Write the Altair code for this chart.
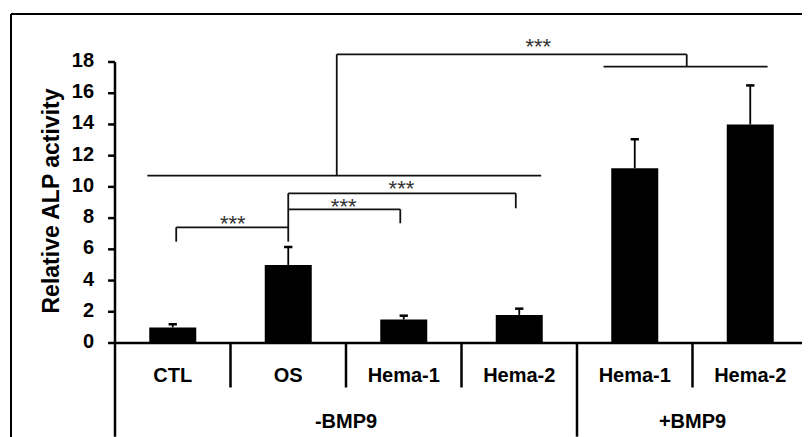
import altair as alt
import pandas as pd

# ---- data ----
categories = ["CTL", "OS", "Hema-1", "Hema-2", "Hema-1", "Hema-2"]
means = [1.0, 5.0, 1.5, 1.8, 11.2, 14.0]
errors = [0.2, 1.15, 0.25, 0.4, 1.85, 2.5]
groups = ["-BMP9", "+BMP9"]
group_first = [0, 4]
group_size = [4, 2]
y_ticks = [0, 2, 4, 6, 8, 10, 12, 14, 16, 18]
y_title = "Relative ALP activity"

# significance bracket segments (x in category units, y in data units)
seg_x1 = [0.53, 0.53, 1.5, 1.5, 2.47, 1.5, 3.47, 0.28, 1.92, 1.92, 4.95, 4.23]
seg_x2 = [1.5, 0.53, 1.5, 2.47, 2.47, 3.47, 3.47, 3.69, 1.92, 4.95, 4.95, 5.65]
seg_y1 = [7.41, 7.41, 9.59, 8.56, 8.56, 9.59, 9.59, 10.72, 10.72, 18.49, 18.49, 17.70]
seg_y2 = [7.41, 6.49, 6.49, 8.56, 7.67, 9.59, 8.63, 10.72, 18.49, 18.49, 17.70, 17.70]

star_x = [1.02, 1.98, 2.48, 3.665]
star_y = [7.9, 9.0, 10.11, 19.2]
star_text = ["***", "***", "***", "***"]

FONT = "Liberation Sans"
TICK = 0.06  # y tick length in category units

n = len(categories)
bars = pd.DataFrame({
    "cat": categories,
    "pos": [i + 0.5 for i in range(n)],
    "mean": means,
    "top": [m + e for m, e in zip(means, errors)],
})
bars["cap_l"] = bars["pos"] - 0.036
bars["cap_r"] = bars["pos"] + 0.036

group_starts = set(group_first + [n])
div = pd.DataFrame({
    "b": list(range(n + 1)),
    "y0": [max(y_ticks) if b == 0 else 0.0 for b in range(n + 1)],
    "bottom": [-6.0 if b in group_starts else -2.85 for b in range(n + 1)],
})
base = pd.DataFrame({"x1": [0.0], "x2": [float(n)], "y": [0.0]})
ticks = pd.DataFrame({"v": y_ticks, "l": [str(v) for v in y_ticks],
                      "x1": [-TICK] * len(y_ticks), "x2": [0.0] * len(y_ticks)})

grp = pd.DataFrame({
    "g": groups,
    "center": [f + s / 2 for f, s in zip(group_first, group_size)],
})

segs = pd.DataFrame({"x1": seg_x1, "x2": seg_x2, "y1": seg_y1, "y2": seg_y2})
stars = pd.DataFrame({"x": star_x, "y": star_y, "t": star_text})
ttl = pd.DataFrame({"t": [y_title]})

xscale = alt.Scale(domain=[0, 6], nice=False, zero=False, padding=0)
yscale = alt.Scale(domain=[0, 18], nice=False, padding=0)

bar_layer = alt.Chart(bars).mark_bar(color="black", size=47).encode(
    x=alt.X("pos:Q", scale=xscale, axis=None),
    y=alt.Y("mean:Q", scale=yscale, axis=None),
)

stem = alt.Chart(bars).mark_rule(color="black", strokeWidth=1.8).encode(
    x="pos:Q", y="mean:Q", y2="top:Q"
)
cap = alt.Chart(bars).mark_rule(color="black", strokeWidth=2.5).encode(
    x="cap_l:Q", x2="cap_r:Q", y="top:Q"
)

baseline = alt.Chart(base).mark_rule(color="black", strokeWidth=2.5).encode(
    x="x1:Q", x2="x2:Q", y="y:Q"
)

dividers = alt.Chart(div).mark_rule(color="black", strokeWidth=2.5).encode(
    x="b:Q", y="y0:Q", y2="bottom:Q"
)

tick_marks = alt.Chart(ticks).mark_rule(color="black", strokeWidth=2.5).encode(
    x="x1:Q", x2="x2:Q", y="v:Q"
)
tick_labels = alt.Chart(ticks).mark_text(
    font=FONT, fontSize=20, fontWeight="bold", color="black",
    align="right", baseline="middle", dx=-14, dy=-1
).encode(x="x1:Q", y="v:Q", text="l:N")

title_layer = alt.Chart(ttl).mark_text(
    font=FONT, fontSize=23, fontWeight="bold", color="black",
    angle=270, align="center", baseline="middle"
).encode(x=alt.value(-63), y=alt.value(139), text="t:N")

brackets = alt.Chart(segs).mark_rule(color="#111111", strokeWidth=1.8).encode(
    x="x1:Q", x2="x2:Q", y="y1:Q", y2="y2:Q"
)

star_layer = alt.Chart(stars).mark_text(
    font=FONT, fontSize=22, color="#333333", baseline="alphabetic", dy=11
).encode(x="x:Q", y="y:Q", text="t:N")

cat_labels = alt.Chart(bars).mark_text(
    font=FONT, fontSize=20, fontWeight="bold", color="black", baseline="alphabetic"
).encode(x="pos:Q", y=alt.value(320), text="cat:N")

grp_labels = alt.Chart(grp).mark_text(
    font=FONT, fontSize=20, fontWeight="bold", color="black", baseline="alphabetic"
).encode(x="center:Q", y=alt.value(365.5), text="g:N")

frame_top = alt.Chart(grp).mark_rule(color="black", strokeWidth=2).encode(
    x=alt.value(-104), x2=alt.value(700), y=alt.value(-48)
)
frame_left = alt.Chart(grp).mark_rule(color="black", strokeWidth=2).encode(
    x=alt.value(-104), y=alt.value(-48), y2=alt.value(380)
)

chart = alt.layer(
    bar_layer, stem, cap, baseline, dividers, tick_marks, tick_labels,
    title_layer, brackets, star_layer, cat_labels, grp_labels,
    frame_top, frame_left
).properties(
    width=693, height=281,
    padding={"left": 107, "top": 54, "right": -6, "bottom": 94},
    autosize=alt.AutoSizeParams(type="none"),
    background="white",
).configure_view(stroke=None)

chart.save("out.html", embed_options={"renderer": "svg", "actions": False})
